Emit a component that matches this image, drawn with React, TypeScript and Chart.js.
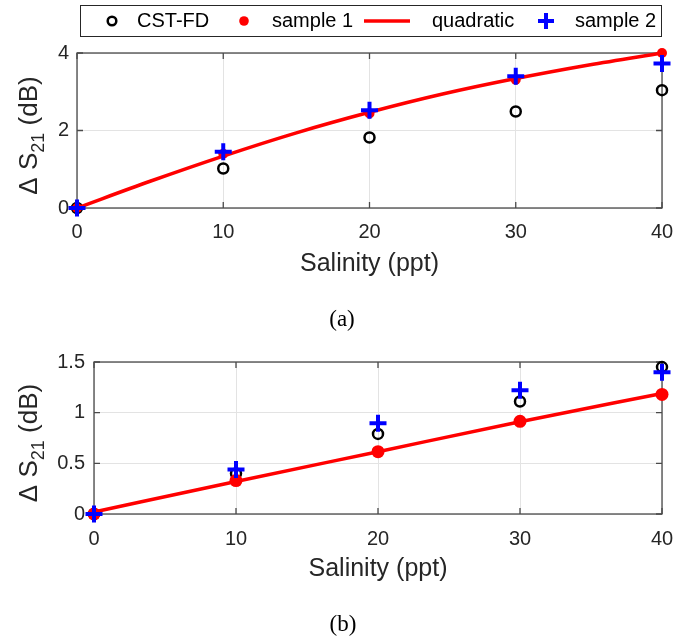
import React, { useEffect, useRef } from "react";
import { Chart, registerables } from "chart.js";
Chart.register(...registerables);

// ---------- data ----------
const salinity = [0, 10, 20, 30, 40];
const fitXA = [0, 5, 10, 15, 20, 25, 30, 35, 40];
const fitXB = [0, 10, 20, 30, 40];

const cstA = [0, 1.02, 1.82, 2.49, 3.04];
const sample1A = [0, 1.4, 2.44, 3.31, 4.0];
const quadA = [0, 0.69, 1.34, 1.94, 2.47, 2.94, 3.34, 3.69, 4.0];
const sample2A = [0, 1.45, 2.52, 3.4, 3.73];

const cstB = [0, 0.4, 0.79, 1.11, 1.45];
const sample1B = [0, 0.33, 0.615, 0.915, 1.18];
const linB = [0.02, 0.32, 0.615, 0.91, 1.19];
const sample2B = [0, 0.44, 0.895, 1.22, 1.4];

const xTicks = [0, 10, 20, 30, 40];
const yTicksA = [0, 2, 4];
const yTicksB = [0, 0.5, 1, 1.5];

const legendLabels = ["CST-FD", "sample 1", "quadratic", "sample 2"];
const xTitle = "Salinity (ppt)";

const FONT = "'Liberation Sans', Arial, Helvetica, sans-serif";
const TXT = "#262626";
const RED = "#ff0000";
const BLUE = "#0000ff";

const pts = (xs: number[], ys: number[]) => xs.map((x, i) => ({ x, y: ys[i] }));

const framePlugin = {
  id: "frame",
  beforeDatasetsDraw(chart: any) {
    const { ctx, chartArea, scales } = chart;
    const { left, right, top, bottom } = chartArea;
    const x = scales.x;
    const y = scales.y;
    ctx.save();
    ctx.strokeStyle = "#4a4a4a";
    ctx.lineWidth = 1.3;
    ctx.strokeRect(left, top, right - left, bottom - top);
    const tl = 6;
    ctx.beginPath();
    x.ticks.forEach((t: any) => {
      const px = x.getPixelForValue(t.value);
      ctx.moveTo(px, bottom);
      ctx.lineTo(px, bottom - tl);
      ctx.moveTo(px, top);
      ctx.lineTo(px, top + tl);
    });
    y.ticks.forEach((t: any) => {
      const py = y.getPixelForValue(t.value);
      ctx.moveTo(left, py);
      ctx.lineTo(left + tl, py);
      ctx.moveTo(right, py);
      ctx.lineTo(right - tl, py);
    });
    ctx.stroke();
    ctx.restore();
  },
};

const yTitlePlugin = {
  id: "ytitle",
  afterDraw(chart: any) {
    const { ctx, chartArea } = chart;
    const F = 26;
    const Fs = 18;
    const baseX = 37;
    const center = (chartArea.top + chartArea.bottom) / 2 + 5;
    ctx.save();
    ctx.fillStyle = TXT;
    ctx.textBaseline = "alphabetic";
    ctx.textAlign = "left";
    const mainFont = `${F}px ${FONT}`;
    const subFont = `${Fs}px ${FONT}`;
    ctx.font = mainFont;
    const w1 = ctx.measureText("\u0394 S").width;
    const w3 = ctx.measureText(" (dB)").width;
    ctx.font = subFont;
    const w2 = ctx.measureText("21").width;
    const total = w1 + w2 + w3;
    ctx.translate(baseX, center + total / 2);
    ctx.rotate(-Math.PI / 2);
    ctx.font = mainFont;
    ctx.fillText("\u0394 S", 0, 0);
    ctx.font = subFont;
    ctx.fillText("21", w1, 7);
    ctx.font = mainFont;
    ctx.fillText(" (dB)", w1 + w2, 0);
    ctx.restore();
  },
};

const legendPlugin = {
  id: "boxlegend",
  afterDraw(chart: any) {
    const { ctx } = chart;
    ctx.save();
    ctx.fillStyle = "#ffffff";
    ctx.fillRect(80.5, 5.5, 581, 31);
    ctx.strokeStyle = "#262626";
    ctx.lineWidth = 1;
    ctx.strokeRect(80.5, 5.5, 581, 31);
    const cy = 21;
    // CST-FD marker
    ctx.beginPath();
    ctx.strokeStyle = "#000";
    ctx.lineWidth = 2.5;
    ctx.arc(112, cy, 4.3, 0, Math.PI * 2);
    ctx.stroke();
    // sample 1 marker
    ctx.beginPath();
    ctx.fillStyle = RED;
    ctx.arc(244, cy, 4.8, 0, Math.PI * 2);
    ctx.fill();
    // quadratic line
    ctx.beginPath();
    ctx.strokeStyle = RED;
    ctx.lineWidth = 3.5;
    ctx.moveTo(364, cy);
    ctx.lineTo(410, cy);
    ctx.stroke();
    // sample 2 cross
    ctx.beginPath();
    ctx.strokeStyle = BLUE;
    ctx.lineWidth = 4;
    ctx.moveTo(546 - 8, cy);
    ctx.lineTo(546 + 8, cy);
    ctx.moveTo(546, cy - 8);
    ctx.lineTo(546, cy + 8);
    ctx.stroke();
    ctx.fillStyle = "#000";
    ctx.font = `20px ${FONT}`;
    ctx.textBaseline = "middle";
    ctx.textAlign = "left";
    const tx = [137, 272, 432, 575];
    legendLabels.forEach((l, i) => ctx.fillText(l, tx[i], cy));
    ctx.restore();
  },
};

function makeConfig(
  cst: number[],
  s1: number[],
  fitX: number[],
  fit: number[],
  s2: number[],
  yTicks: number[],
  yAxisWidth: number,
  padTop: number,
  padBottom: number,
  xTickPad: number,
  yTickPad: number,
  titlePadBottom: number,
  dotR: number,
  withLegend: boolean
): any {
  return {
    type: "scatter",
    data: {
      datasets: [
        {
          label: legendLabels[0],
          data: pts(salinity, cst),
          pointStyle: "circle",
          pointRadius: 5,
          borderWidth: 2.5,
          borderColor: "#000",
          backgroundColor: "rgba(0,0,0,0)",
          clip: false,
          order: 4,
        },
        {
          label: legendLabels[1],
          data: pts(salinity, s1),
          pointStyle: "circle",
          pointRadius: dotR,
          borderWidth: 0,
          backgroundColor: RED,
          borderColor: RED,
          clip: false,
          order: 3,
        },
        {
          label: legendLabels[2],
          data: pts(fitX, fit),
          showLine: true,
          pointRadius: 0,
          borderColor: RED,
          borderWidth: 3.5,
          cubicInterpolationMode: "monotone",
          clip: false,
          order: 2,
        },
        {
          label: legendLabels[3],
          data: pts(salinity, s2),
          pointStyle: "cross",
          pointRadius: 8.5,
          borderWidth: 4,
          borderColor: BLUE,
          backgroundColor: BLUE,
          clip: false,
          order: 1,
        },
      ],
    },
    options: {
      responsive: false,
      animation: false,
      events: [],
      layout: { padding: { top: padTop, right: 26, bottom: padBottom, left: 0 } },
      plugins: { legend: { display: false }, tooltip: { enabled: false } },
      scales: {
        x: {
          type: "linear",
          min: 0,
          max: 40,
          afterBuildTicks: (s: any) => {
            s.ticks = xTicks.map((v) => ({ value: v }));
          },
          afterFit: (s: any) => {
            s.height = 80;
          },
          grid: { color: "#e3e3e3", lineWidth: 1, drawTicks: false },
          border: { display: false },
          ticks: {
            color: TXT,
            padding: xTickPad,
            font: { family: FONT, size: 20 },
            callback: (v: any) => String(v),
          },
          title: {
            display: true,
            text: xTitle,
            color: TXT,
            font: { family: FONT, size: 25 },
            padding: { top: 0, bottom: titlePadBottom },
          },
        },
        y: {
          type: "linear",
          min: yTicks[0],
          max: yTicks[yTicks.length - 1],
          afterBuildTicks: (s: any) => {
            s.ticks = yTicks.map((v) => ({ value: v }));
          },
          afterFit: (s: any) => {
            s.width = yAxisWidth;
          },
          grid: { color: "#e3e3e3", lineWidth: 1, drawTicks: false },
          border: { display: false },
          ticks: {
            color: TXT,
            padding: yTickPad,
            font: { family: FONT, size: 20 },
            callback: (v: any) => String(v),
          },
        },
      },
    },
    plugins: withLegend ? [framePlugin, yTitlePlugin, legendPlugin] : [framePlugin, yTitlePlugin],
  };
}

export default function App() {
  const refA = useRef<HTMLCanvasElement>(null);
  const refB = useRef<HTMLCanvasElement>(null);

  useEffect(() => {
    const a = new Chart(
      refA.current!,
      makeConfig(cstA, sample1A, fitXA, quadA, sample2A, yTicksA, 77, 53, 12, 12, 8, 8.5, 5, true)
    );
    const b = new Chart(
      refB.current!,
      makeConfig(cstB, sample1B, fitXB, linB, sample2B, yTicksB, 94, 52, 16, 13, 9, 10, 6.5, false)
    );
    return () => {
      a.destroy();
      b.destroy();
    };
  }, []);

  const cap: React.CSSProperties = {
    position: "absolute",
    transform: "translate(-50%, -50%)",
    fontFamily: "'Liberation Serif', 'Times New Roman', serif",
    fontSize: 23,
    lineHeight: 1,
    color: "#000",
  };

  return (
    <div style={{ position: "absolute", left: 0, top: 0, width: 688, height: 637, background: "#fff" }}>
      <canvas ref={refA} width={688} height={300} style={{ position: "absolute", left: 0, top: 0, width: 688, height: 300 }} />
      <canvas ref={refB} width={688} height={300} style={{ position: "absolute", left: 0, top: 310, width: 688, height: 300 }} />
      <div style={{ ...cap, left: 342, top: 318 }}>(a)</div>
      <div style={{ ...cap, left: 343, top: 623 }}>(b)</div>
    </div>
  );
}
